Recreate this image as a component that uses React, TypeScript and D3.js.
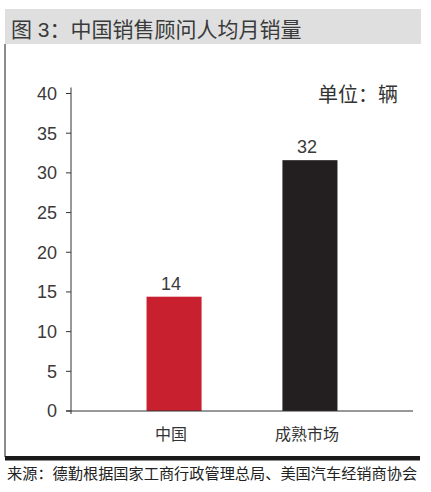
import React from 'react';
import * as d3 from 'd3';

const categories = ['中国', '成熟市场'];
const values = [14.4, 31.6];
const barColors = ['#c8202f', '#231f20'];
const yTicks = [0, 5, 10, 15, 20, 25, 30, 35, 40];

const titleText = '图 3：中国销售顾问人均月销量';
const unitText = '单位：辆';
const sourceText = '来源：德勤根据国家工商行政管理总局、美国汽车经销商协会';

const FONT = '"Liberation Sans", "Noto Sans CJK SC", sans-serif';

export default function App() {
  const width = 431;
  const height = 492;

  const axisX = 71;
  const axisRight = 413;
  const y = d3.scaleLinear().domain([0, 40]).range([411, 93.5]);
  const x = d3
    .scaleBand<string>()
    .domain(categories)
    .range([axisX, axisRight])
    .paddingInner(0.595)
    .paddingOuter(0.556);
  const fmt = d3.format('.0f');

  return (
    <svg
      width={width}
      height={height}
      style={{ position: 'absolute', left: 0, top: 0, background: '#fff' }}
      fontFamily={FONT}
    >
      {/* title band */}
      <rect x={5} y={9} width={416} height={35} fill="#dfdfdf" />
      <text x={11} y={37} fontSize={21} fill="#3a3a3a">
        {titleText}
      </text>

      {/* frame */}
      <line x1={5} x2={5} y1={44} y2={457} stroke="#666" strokeWidth={1.5} />
      <rect x={5} y={456} width={415} height={4.5} fill="#1a1a1a" />

      <text x={398} y={102} fontSize={20} fill="#333" textAnchor="end">
        {unitText}
      </text>

      {/* y axis */}
      <line x1={axisX} x2={axisX} y1={y(40) - 6} y2={y(0) + 3} stroke="#333" strokeWidth={1} />
      {yTicks.map(t => (
        <g key={t}>
          <line x1={axisX - 5} x2={axisX} y1={y(t)} y2={y(t)} stroke="#333" strokeWidth={1} />
          <text
            x={57}
            y={y(t)}
            dy="0.36em"
            textAnchor="end"
            fontSize={18}
            fill="#3a3a3a"
          >
            {t}
          </text>
        </g>
      ))}

      {/* bars */}
      {categories.map((c, i) => {
        const bx = x(c) as number;
        const bw = x.bandwidth();
        return (
          <g key={c}>
            <rect x={bx} y={y(values[i])} width={bw} height={y(0) - y(values[i])} fill={barColors[i]} />
            <text
              x={bx + bw / 2 - 3}
              y={y(values[i]) - 7}
              textAnchor="middle"
              fontSize={18}
              fill="#3a3a3a"
            >
              {fmt(values[i])}
            </text>
            <text x={bx + bw / 2 - 3} y={440} textAnchor="middle" fontSize={16} fill="#333">
              {c}
            </text>
          </g>
        );
      })}

      {/* x axis */}
      <line x1={axisX - 5} x2={axisRight} y1={y(0)} y2={y(0)} stroke="#333" strokeWidth={1} />

      <text x={7} y={479} fontSize={15.2} fill="#222">
        {sourceText}
      </text>
    </svg>
  );
}
